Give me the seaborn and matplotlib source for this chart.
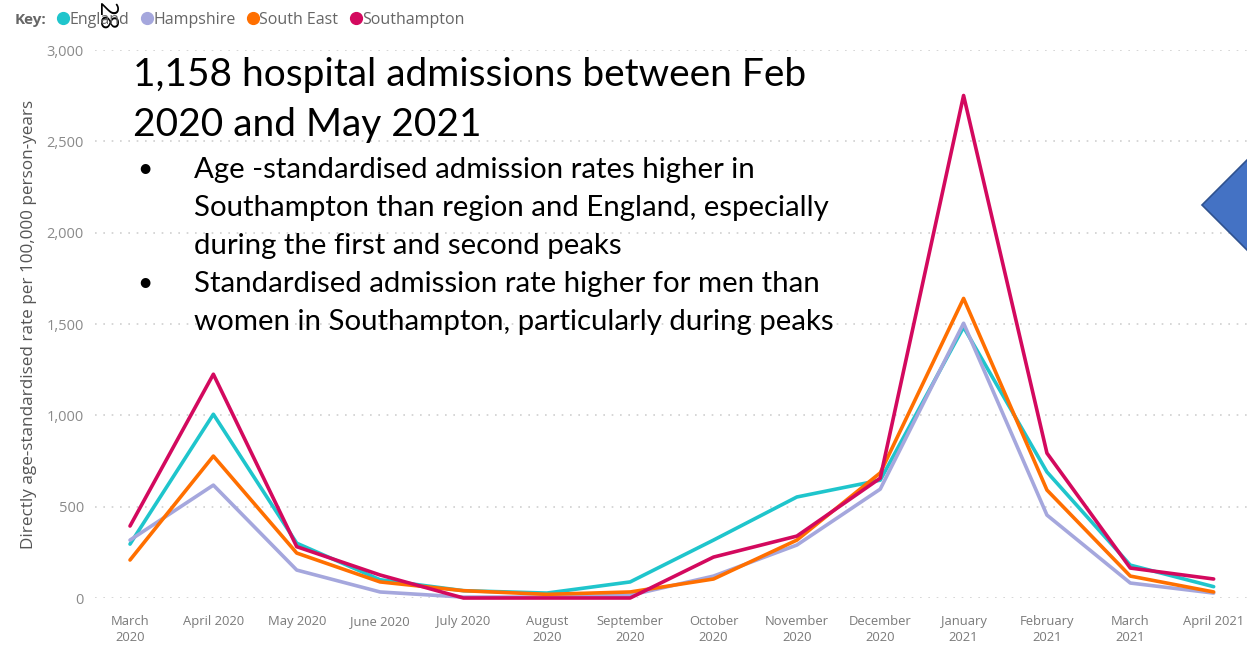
import matplotlib
matplotlib.use("Agg")
import matplotlib.pyplot as plt
from matplotlib.lines import Line2D
from matplotlib.patches import Polygon
import seaborn as sns
import pandas as pd

months = ["March\n2020", "April 2020", "May 2020", "June 2020", "July 2020",
          "August\n2020", "September\n2020", "October\n2020", "November\n2020",
          "December\n2020", "January\n2021", "February\n2021", "March\n2021", "April 2021"]

england     = [295, 1006, 300, 100, 40, 27, 88, 317, 553, 645, 1483, 690, 180, 62]
hampshire   = [317, 618, 153, 33, 5, 5, 15, 120, 290, 596, 1504, 454, 82, 27]
south_east  = [208, 777, 246, 88, 40, 20, 33, 104, 317, 685, 1640, 591, 120, 33]
southampton = [394, 1225, 281, 126, 0, 0, 0, 224, 339, 656, 2751, 793, 164, 104]

series_names = ["England", "Hampshire", "South East", "Southampton"]
colors = ["#1FC5CC", "#A5A7DD", "#FF6F00", "#D3095E"]
yticks = [0, 500, 1000, 1500, 2000, 2500, 3000]

rows = []
for name, vals in zip(series_names, [england, hampshire, south_east, southampton]):
    for i, v in enumerate(vals):
        rows.append({"idx": i, "rate": v, "area": name})
df = pd.DataFrame(rows)

sns.set_style("white")
plt.rcParams["font.family"] = ["Open Sans", "DejaVu Sans"]

fig = plt.figure(figsize=(12.47, 6.49), dpi=100)
ax = fig.add_axes([95 / 1247, 1 - 598 / 649, 1 - 95 / 1247, (598 - 50) / 649])

sns.lineplot(data=df, x="idx", y="rate", hue="area", hue_order=series_names,
             palette=colors, linewidth=2.6, legend=False, ax=ax, clip_on=False)

ax.set_xlim(-0.42, 13.4)
ax.set_ylim(0, 3000)
ax.set_yticks(yticks)
ax.set_yticklabels([f"{v:,}" for v in yticks], color="#8a8a8a", fontsize=10.5)
ax.set_xticks(range(len(months)))
ax.set_xticklabels(months, color="#7a7a7a", fontsize=9.4, linespacing=1.35)
ax.tick_params(axis="both", length=0, pad=8)
ax.tick_params(axis="x", pad=12)
for s in ax.spines.values():
    s.set_visible(False)
ax.grid(axis="y", color="#cfcfcf", linestyle=(0, (1, 4)), linewidth=1.2)
ax.set_axisbelow(True)
ax.set_xlabel("")
ax.set_ylabel("Directly age-standardised rate per 100,000 person-years",
              color="#555555", fontsize=12.3, labelpad=7)

# Legend
fig.text(15 / 1247, 1 - 20 / 649, "Key:", fontsize=11, fontweight="bold",
         color="#666666", va="center", ha="left")
handles = [Line2D([0], [0], marker="o", linestyle="", markersize=8.5,
                  markerfacecolor=c, markeredgecolor=c) for c in colors]
leg = fig.legend(handles, series_names, loc="center left",
                 bbox_to_anchor=(55 / 1247, 1 - 20 / 649), ncol=4, frameon=False,
                 handletextpad=-0.1, columnspacing=0.6, handlelength=1.0,
                 borderaxespad=0, borderpad=0, fontsize=11.5)
for t in leg.get_texts():
    t.set_color("#666666")

# Page number
fig.text(105 / 1247, 1 - 16 / 649, "28", rotation=-90, fontsize=18,
         color="black", ha="center", va="center")

# Overlay text
title_font = ["Lato", "DejaVu Sans"]
fig.text(133 / 1247, 1 - 75 / 649, "1,158 hospital admissions between Feb",
         fontsize=28, family=title_font, va="center", ha="left", color="black")
fig.text(133 / 1247, 1 - 125 / 649, "2020 and May 2021",
         fontsize=28, family=title_font, va="center", ha="left", color="black")
bullet_lines = [
    (170, True, "Age -standardised admission rates higher in"),
    (208, False, "Southampton than region and England, especially"),
    (246, False, "during the first and second peaks"),
    (284, True, "Standardised admission rate higher for men than"),
    (322, False, "women in Southampton, particularly during peaks"),
]
for y, bullet, txt in bullet_lines:
    if bullet:
        fig.text(137 / 1247, 1 - y / 649, "•", fontsize=19, family=title_font,
                 va="center", ha="left", color="black")
    fig.text(194 / 1247, 1 - y / 649, txt, fontsize=21.2, family=title_font,
             va="center", ha="left", color="black")

# Blue arrow shape at right edge
W, H = 1247, 649
pts = [(1202 / W, 1 - 205 / H), (1250 / W, 1 - 157 / H), (1250 / W, 1 - 253 / H)]
fig.patches.append(Polygon(pts, closed=True, transform=fig.transFigure,
                           facecolor="#4472C4", edgecolor="#2F528F", linewidth=1.2))

fig.savefig("out.png", dpi=100)
